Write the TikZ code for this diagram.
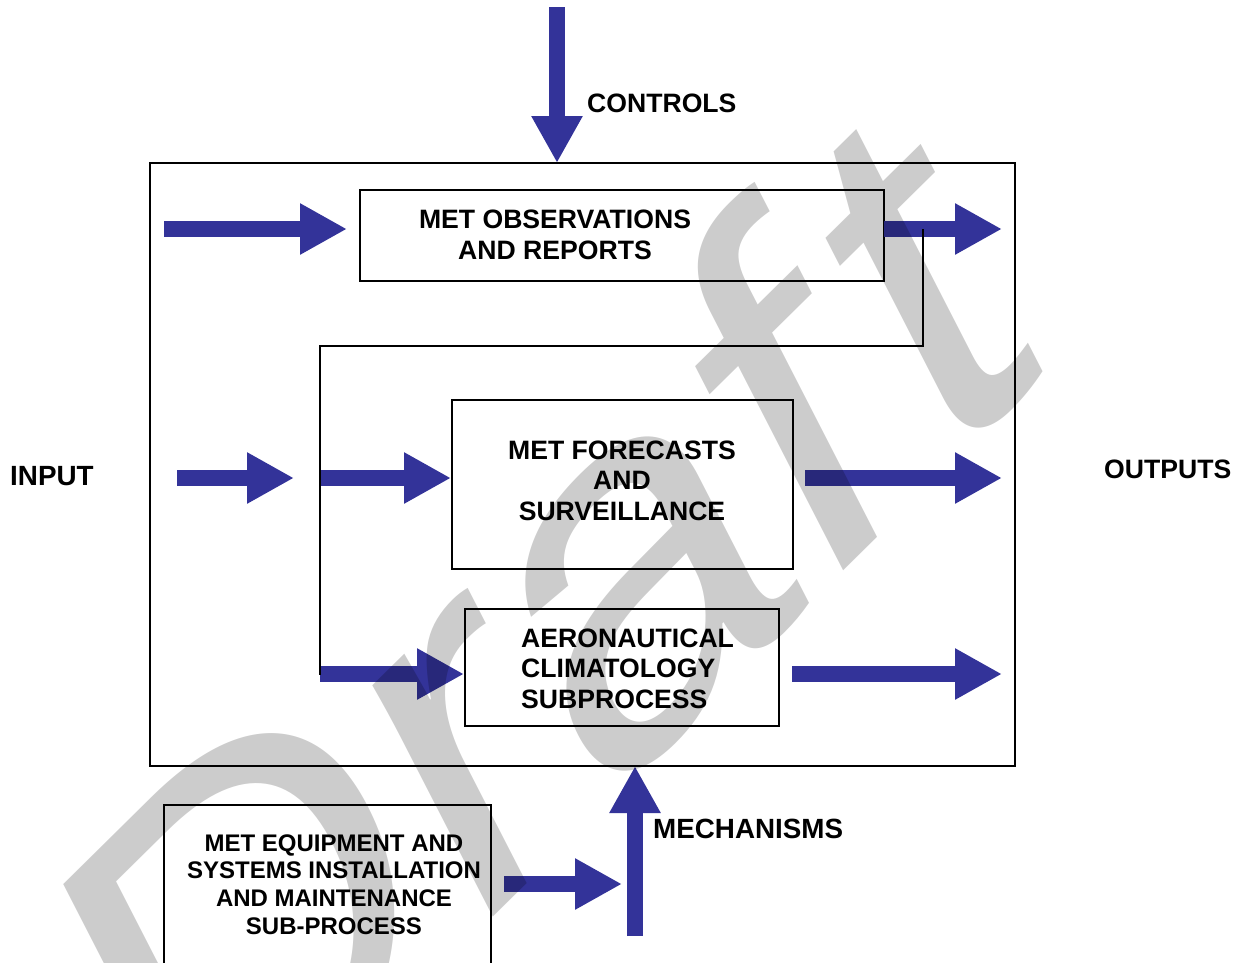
\documentclass[tikz,border=0pt]{standalone}
\usepackage{fontspec}
\setmainfont{Liberation Sans}
\usetikzlibrary{arrows.meta}
\definecolor{arrowblue}{HTML}{333399}
\definecolor{wmgray}{HTML}{CCCCCC}
\begin{document}
\begin{tikzpicture}[x=1pt,y=-1pt,
  box/.style={draw=black, line width=2pt, inner sep=0pt},
  lbl/.style={font=\bfseries\fontsize{26.6}{30.5}\selectfont, align=center, inner sep=0pt},
  biglbl/.style={font=\bfseries\fontsize{27.8}{30.5}\selectfont, inner sep=0pt},
  smalllbl/.style={font=\bfseries\fontsize{24}{27.7}\selectfont, align=center, inner sep=0pt},
  blockarrow/.style={draw=arrowblue, line width=16pt, -{Triangle[length=47pt,width=48pt]}},
  fbline/.style={draw=black, line width=2pt},
]
\useasboundingbox (0,0) rectangle (1247,962);
\clip (0,0) rectangle (1247,962);
% boxes
\node[box, minimum width=865pt, minimum height=603pt] (outer) at (582.5,464.5) {};
\node[box, minimum width=524pt, minimum height=91pt] (obs) at (622,235.5) {};
\node[box, minimum width=341pt, minimum height=169pt] (fc) at (622.5,484.5) {};
\node[box, minimum width=314pt, minimum height=117pt] (aero) at (622,667.5) {};
\node[box, minimum width=327pt, minimum height=170pt] (eq) at (327.5,890) {};
% box texts
\node[lbl] (obsT) at (555,235) {MET OBSERVATIONS\\AND REPORTS};
\node[lbl] (fcT) at (622,480.5) {MET FORECASTS\\AND\\SURVEILLANCE};
\node[lbl, align=left, anchor=west] (aeroT) at (521,668.5) {AERONAUTICAL\\CLIMATOLOGY\\SUBPROCESS};
\node[smalllbl] (eqT) at (334,884.5) {MET EQUIPMENT AND\\SYSTEMS INSTALLATION\\AND MAINTENANCE\\SUB-PROCESS};
% outside labels
\node[lbl, anchor=west] (controls) at (587,103) {CONTROLS};
\node[biglbl, anchor=west] (input) at (10,476) {INPUT};
\node[lbl, anchor=west] (outputs) at (1104,469) {OUTPUTS};
\node[biglbl, anchor=west] (mech) at (653,829) {MECHANISMS};
% arrow end points
\coordinate (ctrlS) at (557,7);
\coordinate (ctrlE) at (557,163);
\coordinate (in1S) at (164,229);
\coordinate (in1E) at (347,229);
\coordinate (out1S) at (884,229);
\coordinate (out1E) at (1002,229);
\coordinate (in2S) at (177,478);
\coordinate (in2E) at (294,478);
\coordinate (midS) at (320,478);
\coordinate (midE) at (451,478);
\coordinate (aeS) at (320,674);
\coordinate (aeE) at (464,674);
\coordinate (out2S) at (805,478);
\coordinate (out2E) at (1002,478);
\coordinate (out3S) at (792,674);
\coordinate (out3E) at (1002,674);
\coordinate (mechS) at (635,936);
\coordinate (mechE) at (635,766);
\coordinate (eqS) at (504,884);
\coordinate (eqE) at (622,884);
\coordinate (fbA) at (923,229);
\coordinate (fbB) at (320,346);
\coordinate (fbC) at (320,675);
% arrows
\foreach \a in {ctrl,in1,out1,in2,mid,ae,out2,out3,mech,eq}
  \draw[blockarrow] (\a S) -- (\a E);
% feedback line
\draw[fbline] (fbA) |- (fbB) -- (fbC);
% watermark
\begin{scope}[blend mode=multiply]
\begin{scope}[cm={3.86,3.81,-2.26,4.40,(187,1219)}]
\node[transform shape, anchor=base west, inner sep=0pt, text=wmgray, font=\fontsize{100}{100}\selectfont] (wm) at (0,0) {Draf\kern0.06em t};
\end{scope}
\end{scope}
\end{tikzpicture}
\end{document}
